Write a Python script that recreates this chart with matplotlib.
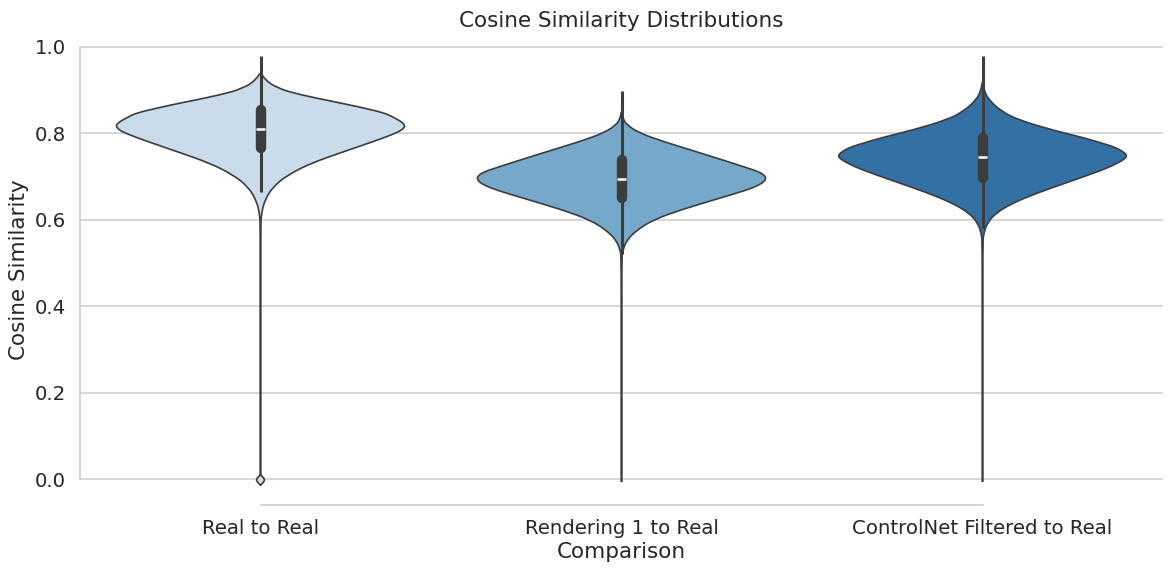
import matplotlib
matplotlib.use('Agg')
import matplotlib.pyplot as plt
from matplotlib.path import Path
from matplotlib.patches import PathPatch
import numpy as np

# categories and colours
categories = ['Real to Real', 'Rendering 1 to Real', 'ControlNet Filtered to Real']
colors = ['#cadbeb', '#76a9c9', '#3370a4']

# violin outlines: y value and relative half width (1 = widest)
real_y = [-0.015, -0.014, -0.002, 0.010, 0.011, 0.584, 0.615, 0.646, 0.677, 0.704, 0.731, 0.758,
          0.785, 0.797, 0.806, 0.812, 0.817, 0.823, 0.830, 0.839, 0.847, 0.860, 0.876, 0.889,
          0.904, 0.924, 0.943]
real_w = [0, 0, 0.036, 0, 0, 0, 0.007, 0.03, 0.088, 0.19, 0.35, 0.58,
          0.815, 0.91, 0.97, 0.99, 1.0, 0.99, 0.96, 0.91, 0.86, 0.70, 0.47, 0.28,
          0.12, 0.03, 0]

rend_y = [-0.007, 0.507, 0.530, 0.553, 0.576, 0.600, 0.623, 0.646, 0.669, 0.680, 0.689, 0.696,
          0.703, 0.711, 0.718, 0.738, 0.762, 0.781, 0.800, 0.819, 0.836, 0.854]
rend_w = [0, 0, 0.009, 0.037, 0.106, 0.22, 0.41, 0.64, 0.87, 0.95, 0.99, 1.0,
          0.99, 0.95, 0.89, 0.705, 0.475, 0.29, 0.13, 0.037, 0.008, 0]

ctrl_y = [-0.007, 0.546, 0.569, 0.592, 0.615, 0.638, 0.661, 0.688, 0.715, 0.730, 0.741, 0.748,
          0.755, 0.766, 0.773, 0.789, 0.808, 0.831, 0.850, 0.877, 0.900, 0.924]
ctrl_w = [0, 0, 0.009, 0.032, 0.09, 0.205, 0.37, 0.60, 0.83, 0.93, 0.985, 1.0,
          0.985, 0.93, 0.87, 0.71, 0.48, 0.25, 0.136, 0.044, 0.01, 0]

# inner box: q1, median, q3, lower whisker, upper whisker
q1 = [0.767, 0.651, 0.697]
medians = [0.810, 0.694, 0.745]
q3 = [0.853, 0.738, 0.790]
whisk_lo = [0.665, 0.52, 0.581]
whisk_hi = [0.979, 0.899, 0.978]

profiles = [(real_y, real_w), (rend_y, rend_w), (ctrl_y, ctrl_w)]


def outline_path(xs, ys):
    # quadratic bezier through midpoints, read points act as control points
    pts = list(zip(xs, ys))
    verts = [pts[0]]
    codes = [Path.MOVETO]
    for k in range(1, len(pts) - 1):
        mid = ((pts[k][0] + pts[k + 1][0]) / 2, (pts[k][1] + pts[k + 1][1]) / 2)
        if k == len(pts) - 2:
            mid = pts[k + 1]
        verts += [pts[k], mid]
        codes += [Path.CURVE3, Path.CURVE3]
    verts.append(pts[0])
    codes.append(Path.CLOSEPOLY)
    return Path(verts, codes)


fig = plt.figure(facecolor='white', figsize=(11.73, 5.73), dpi=100)
ax = fig.add_axes([0.0682, 0.1187, 0.9233, 0.822])

halfmax = 0.4
for i, (yy, ww) in enumerate(profiles):
    yy = np.array(yy)
    ww = np.array(ww) * halfmax
    xs = np.concatenate([i + ww, (i - ww)[::-1][1:]])
    ys = np.concatenate([yy, yy[::-1][1:]])
    ax.add_patch(PathPatch(outline_path(xs, ys), facecolor=colors[i], edgecolor='#3d3d3d',
                           linewidth=1.2, zorder=2))
    ax.plot([i, i], [whisk_lo[i], whisk_hi[i]], color='#3d3d3d', lw=2.2,
            solid_capstyle='butt', zorder=3)
    ax.plot([i, i], [q1[i], q3[i]], color='#3d3d3d', lw=7.5,
            solid_capstyle='round', zorder=3)
    ax.plot([i - 0.012, i + 0.012], [medians[i], medians[i]], color='white', lw=1.8,
            solid_capstyle='butt', zorder=4)

ax.set_xlim(-0.5, 2.5)
ax.set_ylim(-0.06, 1.03)
ax.set_yticks(np.arange(0, 1.01, 0.2))
ax.set_yticklabels(['%.1f' % v for v in np.arange(0, 1.01, 0.2)])
ax.set_xticks(range(len(categories)))
ax.set_xticklabels(categories)
ax.tick_params(axis='both', length=0, pad=10, labelsize=14.2, labelcolor='#262626')

ax.yaxis.grid(True, color='#cccccc', lw=1.1, zorder=0)
ax.set_axisbelow(True)
for s in ['top', 'right']:
    ax.spines[s].set_visible(False)
ax.spines['left'].set_color('#cccccc')
ax.spines['left'].set_linewidth(1.2)
ax.spines['left'].set_bounds(0, 1.0)
ax.spines['bottom'].set_color('#cccccc')
ax.spines['bottom'].set_linewidth(1.2)
ax.spines['bottom'].set_bounds(0, 2)

ax.set_xlabel('Comparison', fontsize=15.5, color='#262626', labelpad=3)
ax.set_ylabel('Cosine Similarity', fontsize=15.5, color='#262626', labelpad=4)
ax.set_title('Cosine Similarity Distributions', fontsize=15.5, color='#262626', pad=5)

fig.savefig('out.png', dpi=100, facecolor='white')
